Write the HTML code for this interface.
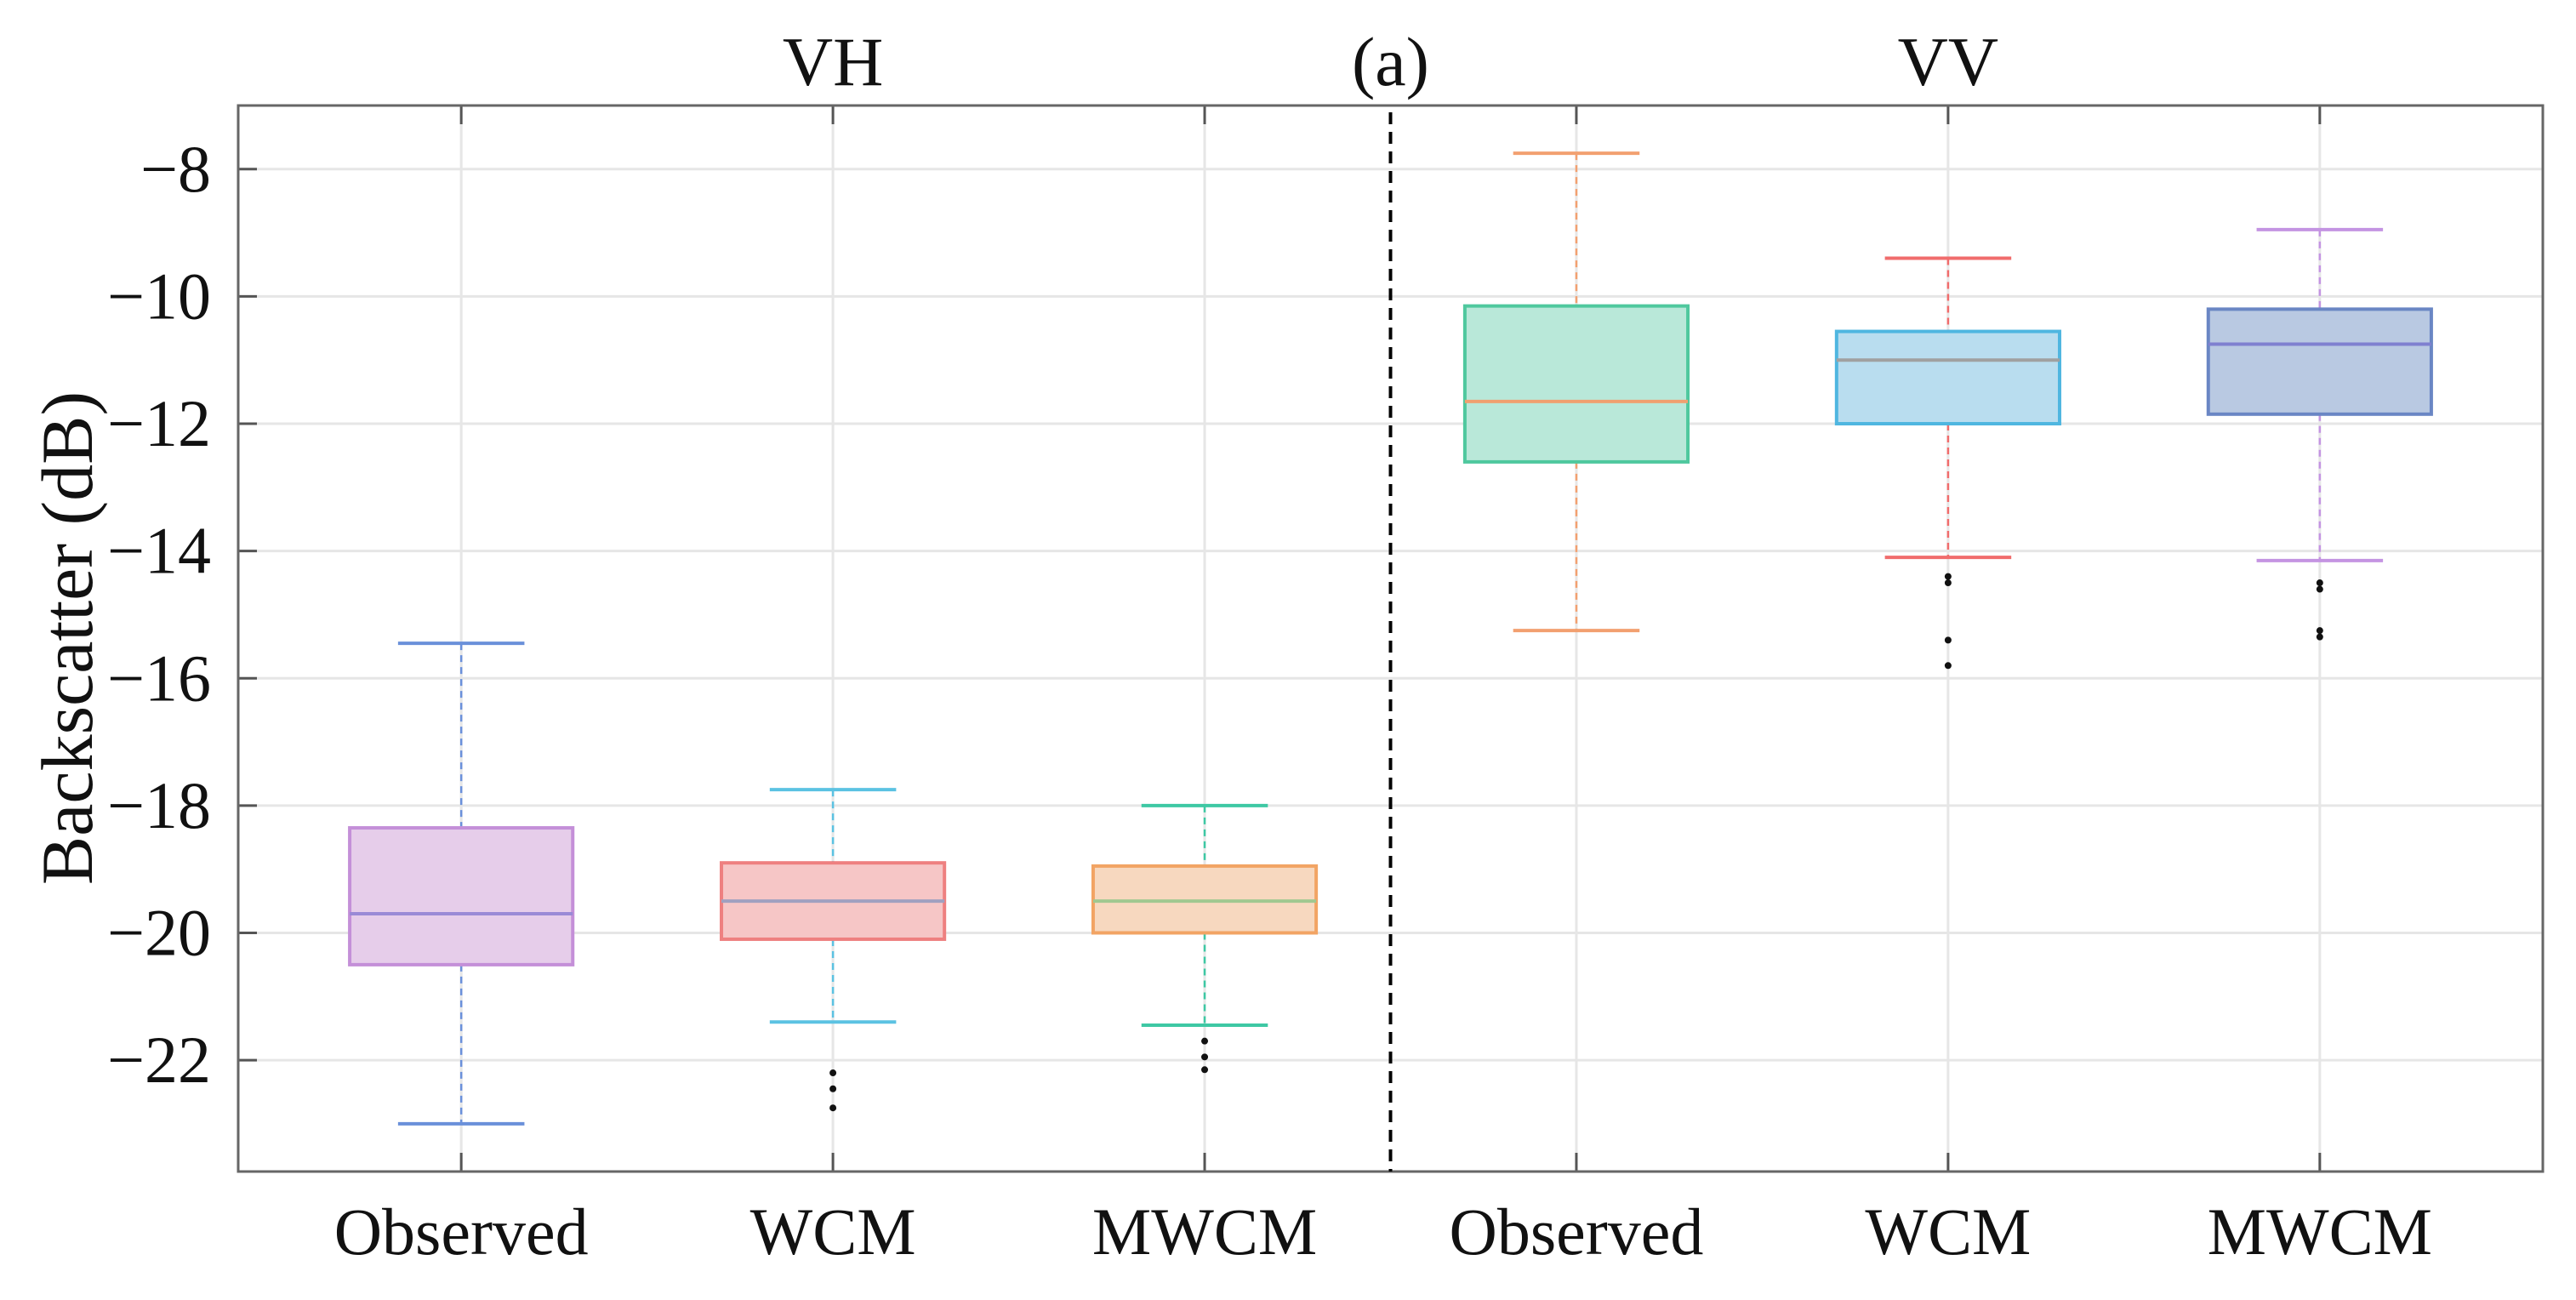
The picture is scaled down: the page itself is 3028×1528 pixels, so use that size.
<!DOCTYPE html>
<html><head><meta charset="utf-8">
<style>
html,body{margin:0;padding:0;background:#fff;}
svg{display:block;font-family:"Liberation Serif",serif;}
</style></head>
<body>
<svg id="chart" width="3028" height="1528" viewBox="0 0 3028 1528" xmlns="http://www.w3.org/2000/svg"></svg>
<script>
const categories = ["Observed","WCM","MWCM","Observed","WCM","MWCM"];
const whiskerHigh = [-15.45,-17.75,-18.0,-7.75,-9.4,-8.95];
const q3 = [-18.35,-18.9,-18.95,-10.15,-10.55,-10.2];
const medians = [-19.7,-19.5,-19.5,-11.65,-11.0,-10.75];
const q1 = [-20.5,-20.1,-20.0,-12.6,-12.0,-11.85];
const whiskerLow = [-23.0,-21.4,-21.45,-15.25,-14.1,-14.15];
const outliers = [[],[-22.2,-22.45,-22.75],[-21.7,-21.95,-22.15],[],[-14.4,-14.5,-15.4,-15.8],[-14.5,-14.6,-15.25,-15.35]];
const yTicks = [-8,-10,-12,-14,-16,-18,-20,-22];
const groupTitles = ["VH","(a)","VV"];

const fills=["#e6cdea","#f6c6c6","#f7d8bf","#b9e8d9","#b9ddef","#b9c9e2"];
const strokes=["#c48fd8","#ee8080","#f2a464","#4fc89e","#4fb6e0","#6a86c4"];
const medCol=["#9a8ad6","#a0a0c0","#a0c890","#f0a070","#a0a0a0","#7f80d0"];
const whCol=["#6a90da","#5bc2e2","#3ec8a4","#f2a070","#f06c6c","#c494e2"];

const L=280,R=2989,T=124,B=1377;
const xmin=0.4,xmax=6.6,ymin=-23.75,ymax=-7.0;
const X=v=>L+(v-xmin)/(xmax-xmin)*(R-L);
const Y=v=>T+(ymax-v)/(ymax-ymin)*(B-T);
const svg=document.getElementById('chart');
const NS="http://www.w3.org/2000/svg";
function mk(tag,attrs,parent){const e=document.createElementNS(NS,tag);for(const k in attrs)e.setAttribute(k,attrs[k]);(parent||svg).appendChild(e);return e;}

yTicks.forEach(t=>{
  const g=mk('line',{x1:L,x2:R,y1:Y(t),y2:Y(t),stroke:"#e6e6e6","stroke-width":3});
  
  
  const tk=mk('line',{x1:L,x2:L+22,y1:Y(t),y2:Y(t),stroke:"#555","stroke-width":3});
  
  
  const tx=mk('text',{x:248,y:Y(t)+26,"text-anchor":"end","font-size":78,fill:"#111"});
  tx.textContent=String(t).replace('-','\u2212');
  
  
});
categories.forEach((c,i)=>{
  const x=X(i+1);
  const g=mk('line',{x1:x,x2:x,y1:T,y2:B,stroke:"#e6e6e6","stroke-width":3});
  
  
  const t1=mk('line',{x1:x,x2:x,y1:B,y2:B-22,stroke:"#555","stroke-width":3});
  
  
  const t2=mk('line',{x1:x,x2:x,y1:T,y2:T+22,stroke:"#555","stroke-width":3});
  
  
  const tx=mk('text',{x:x,y:1474,"text-anchor":"middle","font-size":78,fill:"#111"});
  tx.textContent=c;
  
  
});
const bw=0.3,cw=0.17;
categories.forEach((c,i)=>{
  const x=i+1;
  const g=mk('g',{});
  
  
  mk('line',{x1:X(x),x2:X(x),y1:Y(whiskerHigh[i]),y2:Y(q3[i]),stroke:whCol[i],"stroke-width":2.5,"stroke-dasharray":"8,6"},g);
  mk('line',{x1:X(x),x2:X(x),y1:Y(q1[i]),y2:Y(whiskerLow[i]),stroke:whCol[i],"stroke-width":2.5,"stroke-dasharray":"8,6"},g);
  mk('line',{x1:X(x-cw),x2:X(x+cw),y1:Y(whiskerHigh[i]),y2:Y(whiskerHigh[i]),stroke:whCol[i],"stroke-width":4},g);
  mk('line',{x1:X(x-cw),x2:X(x+cw),y1:Y(whiskerLow[i]),y2:Y(whiskerLow[i]),stroke:whCol[i],"stroke-width":4},g);
  mk('rect',{x:X(x-bw),y:Y(q3[i]),width:X(x+bw)-X(x-bw),height:Y(q1[i])-Y(q3[i]),fill:fills[i],stroke:strokes[i],"stroke-width":4},g);
  mk('line',{x1:X(x-bw),x2:X(x+bw),y1:Y(medians[i]),y2:Y(medians[i]),stroke:medCol[i],"stroke-width":4},g);
  outliers[i].forEach(o=>{
    const d=mk('circle',{cx:X(x),cy:Y(o),r:4,fill:"#111"},g);
    
    
  });
});
const fr=mk('rect',{x:L,y:T,width:R-L,height:B-T,fill:"none",stroke:"#666","stroke-width":3});


const dv=mk('line',{x1:X(3.5),x2:X(3.5),y1:T+8,y2:B,stroke:"#000","stroke-width":4,"stroke-dasharray":"14,9"});


[[2,'title-vh'],[3.5,'panel-label'],[5,'title-vv']].forEach((p,k)=>{
  const t=mk('text',{x:X(p[0]),y:100,"text-anchor":"middle","font-size":82,fill:"#111"});
  t.textContent=groupTitles[k];
  
  
});
const yt=mk('text',{x:0,y:0,transform:"translate(108,750) rotate(-90)","text-anchor":"middle","font-size":86,fill:"#111"});
yt.textContent="Backscatter (dB)";


</script>
</body></html>
